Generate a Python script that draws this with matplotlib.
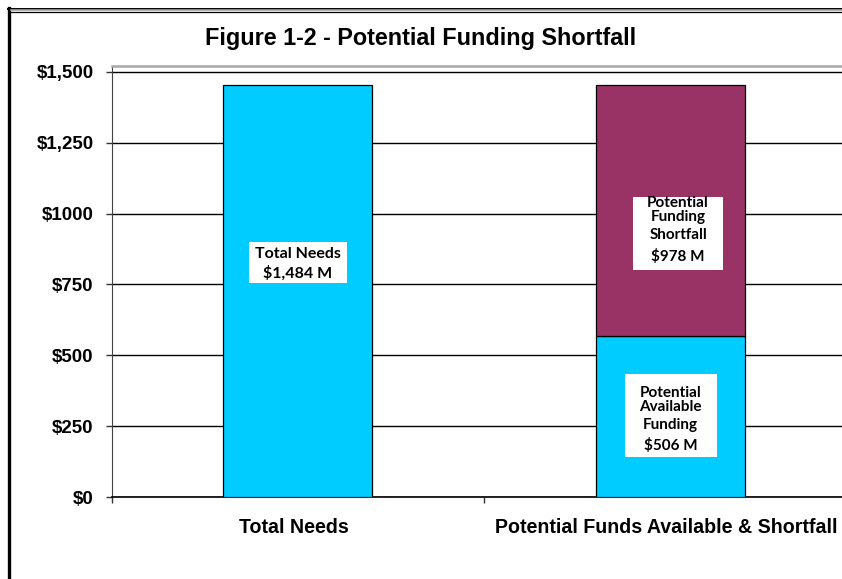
"""Figure 1-2: potential funding shortfall, stacked bar recreation."""

import matplotlib

matplotlib.use("Agg")
import matplotlib.pyplot as plt
from matplotlib.lines import Line2D
from matplotlib.patches import Rectangle
from matplotlib.transforms import ScaledTranslation

CYAN = "#00CCFF"
MAROON = "#993366"
INK = "black"

categories = ["Total Needs", "Potential Funds Available & Shortfall"]
total_needs = [1454]
available = [568]
shortfall = [886]

y_ticks = [0, 250, 500, 750, 1000, 1250, 1500]
y_tick_labels = ["$0", "$250", "$500", "$750", "$1000", "$1,250", "$1,500"]

needs_label = ["Total Needs", "$1,484 M"]
shortfall_label = ["Potential", "Funding", "Shortfall", "$978 M"]
available_label = ["Potential", "Available", "Funding", "$506 M"]

W, H = 842, 579


def boxed_label(ax, x, y, w_px, h_px, lines, offsets_px, size):
    """White box centred on (x, y) in data units, one text per line."""
    x0, x1 = ax.get_xlim()
    y0, y1 = ax.get_ylim()
    sx = ax.bbox.width / (x1 - x0)
    sy = ax.bbox.height / (y1 - y0)
    ax.add_patch(Rectangle((x - w_px / sx / 2, y - h_px / sy / 2), w_px / sx, h_px / sy,
                           facecolor="white", edgecolor="none", zorder=4))
    for text, dy in zip(lines, offsets_px):
        ax.annotate(text, xy=(x, y), xycoords="data", xytext=(0, -dy * 0.72),
                    textcoords="offset points", ha="center", va="center",
                    fontsize=size, fontweight="bold", family="Lato", color=INK, zorder=5)


fig = plt.figure(figsize=(W / 100, H / 100), dpi=100, facecolor="white")
ax = fig.add_axes([111.5 / W, 82 / H, (857 - 111.5) / W, (497 - 66) / H])
ax.set_xlim(-0.5, 1.5)
ax.set_ylim(0, 1521)

ax.set_axisbelow(True)
ax.yaxis.grid(True, color=INK, linewidth=1.0)
ax.bar(0, total_needs, width=0.4, color=CYAN, edgecolor=INK, linewidth=0.9, zorder=3)
ax.bar(1, available, width=0.4, color=CYAN, edgecolor=INK, linewidth=0.9, zorder=3)
ax.bar(1, shortfall, bottom=available, width=0.4, color=MAROON, edgecolor=INK,
       linewidth=0.9, zorder=3)

ax.set_yticks(y_ticks)
ax.set_yticklabels(y_tick_labels, fontsize=13.5, fontweight="bold", family="Liberation Sans")
ax.tick_params(axis="y", direction="out", length=4.3, width=1, pad=8.5, color="#333333")

ax.set_xticks([-0.5, 0.5, 1.5])
ax.set_xticklabels([])
ax.tick_params(axis="x", which="major", direction="out", length=4.3, width=1, color="#333333")
ax.set_xticks([0, 1], minor=True)
ax.set_xticklabels(categories, minor=True, fontsize=14.1, fontweight="bold",
                   family="Liberation Sans")
ax.tick_params(axis="x", which="minor", length=0, pad=15)
shift = ScaledTranslation(-4 / 100, 0, fig.dpi_scale_trans)
for label in ax.xaxis.get_minorticklabels():
    label.set_transform(label.get_transform() + shift)

ax.spines["left"].set_color("#404040")
ax.spines["bottom"].set_color(INK)
ax.spines["bottom"].set_linewidth(1.2)
ax.spines["top"].set_color("#a8a8a8")
ax.spines["top"].set_linewidth(1.8)
ax.spines["right"].set_visible(False)

boxed_label(ax, 0.0, 828, 98, 41, needs_label, [-8.5, 10.5], 11.5)
boxed_label(ax, 1.02, 930, 90, 73, shortfall_label, [-30, -16.5, 1.5, 23.5], 11)
boxed_label(ax, 1.0, 288, 92, 83, available_label, [-22.5, -8.5, 9.5, 30.5], 11)

fig.text(421 / W, 1 - 38 / H, "Figure 1-2 - Potential Funding Shortfall", ha="center",
         va="center", fontsize=16.8, fontweight="bold", family="Liberation Sans", color=INK)

# outer frame: thick left rule and a black/grey/black top rule
fig.add_artist(Line2D([9 / W, 9 / W], [0, 1 - 8 / H], transform=fig.transFigure,
                      color=INK, linewidth=2.4))
fig.add_artist(Line2D([7.5 / W, 1], [1 - 8.5 / H, 1 - 8.5 / H], transform=fig.transFigure,
                      color=INK, linewidth=1.4))
fig.add_artist(Line2D([10.5 / W, 1], [1 - 10.2 / H, 1 - 10.2 / H], transform=fig.transFigure,
                      color="#a0a0a0", linewidth=1.2))
fig.add_artist(Line2D([10.5 / W, 1], [1 - 11.9 / H, 1 - 11.9 / H], transform=fig.transFigure,
                      color=INK, linewidth=0.9))

fig.savefig("out.png", dpi=100, facecolor="white")
